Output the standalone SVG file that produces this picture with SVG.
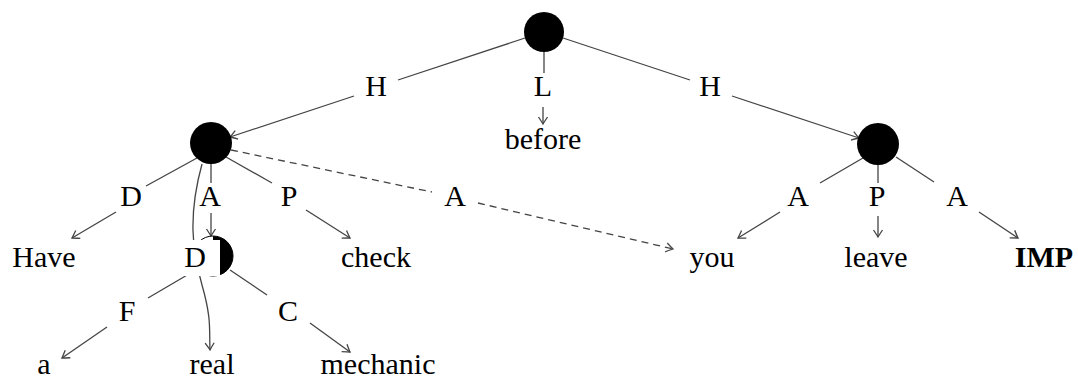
<svg xmlns="http://www.w3.org/2000/svg" width="1078" height="378" viewBox="0 0 1078 378">
<style>
  text { font-family: "Liberation Serif", "Times New Roman", serif; font-size: 30px; fill: #000; text-anchor: middle; }
  .b { font-weight: bold; }
  .e { stroke: #444; stroke-width: 1.3; fill: none; }
  .a { marker-end: url(#arr); }
  .d { stroke-dasharray: 7 5; }
  .n { fill: #000; }
</style>
<defs>
  <marker id="arr" markerUnits="userSpaceOnUse" viewBox="-9 -6 11 12" refX="0" refY="0" markerWidth="11" markerHeight="12" orient="auto">
    <path d="M -7 -4.5 Q -2 -1.2 0 0 Q -2 1.2 -7 4.5" fill="none" stroke="#444" stroke-width="1.3"/>
  </marker>
</defs>
<rect width="1078" height="378" fill="#fff"/>
<g id="connectors">
  <line class="e" x1="525" y1="38" x2="398" y2="80"/>
  <line class="e a" x1="354" y1="96" x2="230" y2="137"/>
  <line class="e" x1="563" y1="38" x2="690" y2="80"/>
  <line class="e a" x1="732" y1="96" x2="859" y2="138"/>
  <line class="e" x1="544" y1="52" x2="544" y2="73"/>
  <line class="e a" x1="543" y1="107" x2="543" y2="124"/>
  <line class="e" x1="197" y1="158" x2="146" y2="186"/>
  <line class="e a" x1="116" y1="212" x2="72" y2="238"/>
  <line class="e" x1="211" y1="164" x2="211" y2="183"/>
  <line class="e a" x1="211" y1="213" x2="211" y2="236"/>
  <line class="e" x1="226" y1="157" x2="272" y2="183"/>
  <line class="e a" x1="306" y1="210" x2="350" y2="238"/>
  <line class="e d" x1="231" y1="150" x2="432" y2="192"/>
  <line class="e d a" x1="478" y1="203" x2="673" y2="249"/>
  <path class="e a" d="M 202 164 C 188 215, 192 250, 202 285 S 209 330, 210 350"/>
  <line class="e" x1="863" y1="158" x2="820" y2="183"/>
  <line class="e a" x1="780" y1="212" x2="738" y2="238"/>
  <line class="e" x1="878" y1="165" x2="878" y2="183"/>
  <line class="e a" x1="878" y1="216" x2="878" y2="237"/>
  <line class="e" x1="896" y1="157" x2="934" y2="182"/>
  <line class="e a" x1="979" y1="212" x2="1018" y2="238"/>
  <line class="e" x1="194" y1="271" x2="148" y2="298"/>
  <line class="e a" x1="107" y1="327" x2="62" y2="358"/>
  <line class="e" x1="230" y1="270" x2="267" y2="295"/>
  <line class="e a" x1="310" y1="323" x2="350" y2="352"/>
</g>
<g id="root"><circle class="n" cx="544" cy="32" r="20"/></g>
<g id="scene1"><circle class="n" cx="211" cy="143" r="21"/></g>
<g id="scene2"><circle class="n" cx="878" cy="144" r="21"/></g>
<g id="unit">
  <circle cx="213" cy="256" r="20" fill="#fff" stroke="#000" stroke-width="1"/>
  <path class="n" d="M 213 236 A 20 20 0 0 1 213 276 Z"/>
</g>
<g id="labels">
  <text x="376" y="96">H</text>
  <text x="543" y="96">L</text>
  <text x="710" y="96">H</text>
  <text x="131" y="206">D</text>
  <text x="210" y="206">A</text>
  <text x="289" y="206">P</text>
  <text x="455" y="206">A</text>
  <text x="798" y="206">A</text>
  <text x="877" y="206">P</text>
  <text x="957" y="206">A</text>
  <rect x="184" y="240" width="36" height="36" fill="#fff"/>
  <text x="195" y="267">D</text>
  <text x="127" y="321">F</text>
  <text x="288" y="321">C</text>
</g>
<g id="words">
  <text x="543" y="149">before</text>
  <text x="44" y="267">Have</text>
  <text x="376" y="267">check</text>
  <text x="712" y="267">you</text>
  <text x="876" y="267">leave</text>
  <text class="b" x="1044" y="267">IMP</text>
  <text x="44" y="374">a</text>
  <text x="212" y="374">real</text>
  <text x="378" y="374">mechanic</text>
</g>
</svg>
